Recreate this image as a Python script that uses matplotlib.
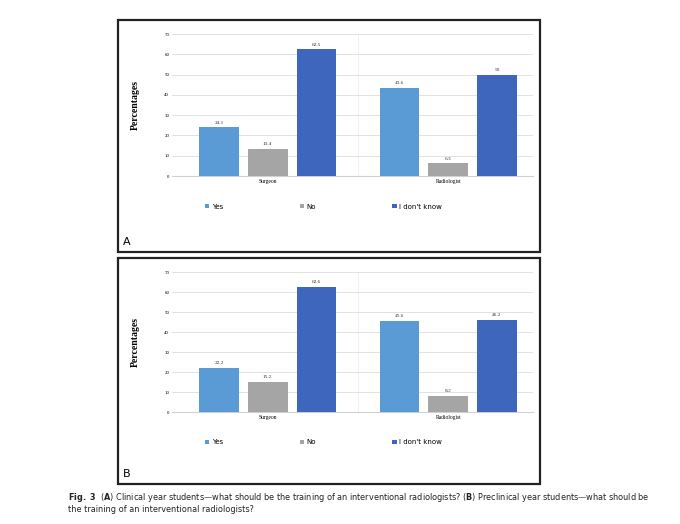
import matplotlib
matplotlib.use("Agg")
import matplotlib.pyplot as plt
from matplotlib.patches import Rectangle
import numpy as np

categories = ["Surgeon", "Radiologist"]
series = ["Yes", "No", "I don't know"]
a_yes = [24.1, 43.6]; a_no = [13.4, 6.3]; a_idk = [62.5, 50]
b_yes = [22.2, 45.6]; b_no = [15.2, 8.2]; b_idk = [62.6, 46.2]
colors = ["#5b9bd5", "#a5a5a5", "#3f66bd"]

W, H = 680, 524
fig = plt.figure(figsize=(6.8, 5.24), dpi=100)

def fx(x): return x / W
def fy(y): return 1 - y / H

def panel(box, axbox, data, letter):
    x0, y0, x1, y1 = box
    fig.patches.append(Rectangle((fx(x0), fy(y1)), fx(x1 - x0), (y1 - y0) / H,
                                 transform=fig.transFigure, fill=False,
                                 edgecolor="#222222", linewidth=1.6))
    ax0, ay0, ax1, ay1 = axbox
    ax = fig.add_axes([fx(ax0), fy(ay1), fx(ax1 - ax0), (ay1 - ay0) / H])
    x = np.arange(len(categories))
    offs = [-0.27, 0, 0.27]
    for vals, c, o, lab in zip(data, colors, offs, series):
        ax.bar(x + o, vals, width=0.22, color=c, label=lab, zorder=3)
        for xi, v in zip(x + o, vals):
            ax.text(xi, v + 1.2, f"{v:g}", ha="center", va="bottom",
                    fontsize=3.8, family="Liberation Serif", color="#333333")
    ax.set_xlim(-0.53, 1.47)
    ax.set_ylim(0, 70)
    ax.set_yticks(range(0, 71, 10))
    ax.set_xticks(x)
    ax.set_xticklabels(categories, family="Liberation Serif", fontsize=4)
    for t in ax.get_yticklabels():
        t.set_family("Liberation Serif"); t.set_fontsize(3.5)
    ax.tick_params(length=0, pad=2)
    ax.grid(axis="y", color="#dddddd", linewidth=0.6, zorder=0)
    ax.axvline(0.5, color="#eeeeee", linewidth=0.6, zorder=0)
    for s in ["top", "right", "left"]:
        ax.spines[s].set_visible(False)
    ax.spines["bottom"].set_color("#d0d0d0")
    ax.set_ylabel("Percentages", family="Liberation Serif", fontsize=7,
                  fontweight="bold", labelpad=18)
    ax.legend(loc="upper center", bbox_to_anchor=(0.42, -0.15), ncol=3,
              frameon=False, fontsize=5, handlelength=0.6, handleheight=0.6,
              columnspacing=11, handletextpad=0.4)
    fig.text(fx(x0 + 5), fy(y1 - 10), letter, fontsize=8, va="center")

panel((118, 20, 540, 252), (172, 34, 533, 176), [a_yes, a_no, a_idk], "A")
panel((118, 258, 540, 484), (172, 272, 533, 412), [b_yes, b_no, b_idk], "B")

fig.text(fx(68), fy(498), r"$\bf{Fig.\ 3}$  ($\bf{A}$) Clinical year students—what should be the training of an interventional radiologists? ($\bf{B}$) Preclinical year students—what should be",
         fontsize=5.9, va="center", color="#222222")
fig.text(fx(68), fy(510), "the training of an interventional radiologists?",
         fontsize=5.9, va="center", color="#222222")

fig.savefig("out.png", dpi=100)
